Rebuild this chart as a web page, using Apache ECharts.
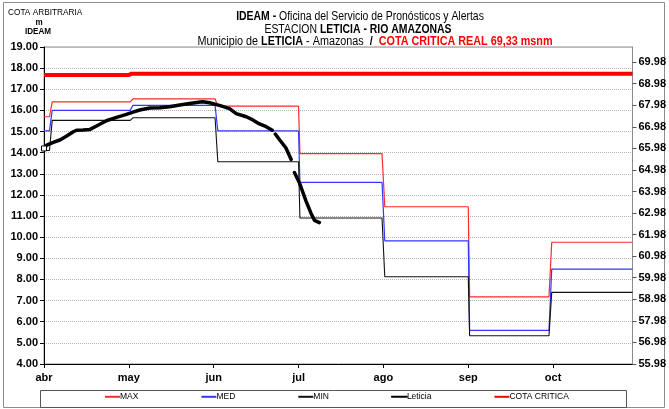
<!DOCTYPE html>
<html>
<head>
<meta charset="utf-8">
<script src="https://cdn.jsdelivr.net/npm/echarts@6/dist/echarts.min.js"></script>
<style>
  html, body { margin: 0; padding: 0; background: #fff; }
  #chart { width: 669px; height: 409px; }
</style>
</head>
<body>
<div id="chart"></div>
<script>
// Month labels on the day axis (day 0 = start of abr)
const months = ['abr', 'may', 'jun', 'jul', 'ago', 'sep', 'oct'];
const monthTickDays = [0, 31, 62, 93, 124, 155, 186];

// Secondary axis ticks (msnm)
const rightTicks = [55.98, 56.98, 57.98, 58.98, 59.98, 60.98, 61.98, 62.98, 63.98, 64.98, 65.98, 66.98, 67.98, 68.98, 69.98];

// Reference periods of the historical levels (start / end day of each plateau)
const periodStart = [0, 3, 32.5, 63.5, 93.5, 124.5, 155.5, 185.5];
const periodEnd   = [2, 31.5, 62.5, 93, 123.5, 155, 184.5, 215];

// Historical levels per period (m)
const maxLevels = [15.70, 16.40, 16.55, 16.20, 13.95, 11.44, 7.18, 9.76];
const medLevels = [15.03, 16.00, 16.24, 15.03, 12.59, 9.83, 5.59, 8.49];
const minLevels = [14.10, 15.53, 15.65, 13.57, 10.91, 8.13, 5.34, 7.39];

// Critical level (m)
const criticaDays   = [0, 31, 32, 215];
const criticaLevels = [17.67, 17.67, 17.74, 17.74];

// Observed levels at Leticia (day, m); null = missing reading
const leticiaDays = [0, 1, 3.4, 5.8, 8.3, 10.7, 11.9, 14.3, 16.8, 19.2, 22.8, 26.5, 30.1, 32.5, 35, 38.6, 42.3, 45.9, 49.6, 53.2, 57, 58, 60.5, 64.1, 67.8, 70.2, 73.9, 76.3, 78.7, 81.2, 83.4, 84, 84.5, 86, 88.4, 90.3, 91, 91.5, 93.3, 94.5, 95.7, 97.5, 98.8, 100.6];
const leticiaLevels = [14.20, 14.36, 14.49, 14.60, 14.79, 14.99, 15.06, 15.07, 15.10, 15.26, 15.51, 15.67, 15.81, 15.92, 16.02, 16.11, 16.13, 16.17, 16.26, 16.33, 16.40, 16.41, 16.36, 16.24, 16.08, 15.85, 15.70, 15.55, 15.36, 15.23, 15.06, null, 14.88, 14.62, 14.22, 13.68, null, 13.06, 12.58, 12.15, 11.72, 11.15, 10.80, 10.69];

const FONT = "'Liberation Sans', Arial, sans-serif";
const NARROW = 0.87; // condensed look for header texts

function stepSeries(levels) {
  const pts = [];
  levels.forEach((v, i) => {
    pts.push([periodStart[i], v]);
    pts.push([periodEnd[i], v]);
  });
  return pts;
}

const leticiaData = leticiaDays.map((d, i) => {
  const v = leticiaLevels[i];
  if (i === 0) {
    return { value: [d, v], symbol: 'rect', symbolSize: 5, itemStyle: { color: '#fff', borderColor: '#000', borderWidth: 1, opacity: 1 } };
  }
  return [d, v === null ? '-' : v];
});

const richHead = {
  b: { font: 'bold 12px ' + FONT, fill: '#000' },
  n: { font: '12px ' + FONT, fill: '#000' },
  r: { font: 'bold 12px ' + FONT, fill: '#ff0000' }
};

const chart = echarts.init(document.getElementById('chart'), null, { renderer: 'canvas' });

chart.setOption({
  animation: false,
  backgroundColor: '#fff',
  grid: {
    left: 44, right: 35, top: 47, bottom: 45,
    show: true, borderColor: '#8c8c8c', borderWidth: 1, backgroundColor: 'transparent'
  },
  graphic: [
    { type: 'rect', shape: { x: 3.5, y: 2.5, width: 661, height: 405 }, style: { fill: 'none', stroke: '#8c8c8c', lineWidth: 1 }, silent: true, z: -10 },
    { type: 'rect', shape: { x: 40.5, y: 390.5, width: 586, height: 17 }, style: { fill: 'none', stroke: '#555', lineWidth: 1 }, silent: true },
    { type: 'text', x: 8, y: 8, scaleX: 0.92, style: { text: 'COTA ARBITRARIA', font: '9px ' + FONT, fill: '#000' } },
    { type: 'text', x: 39, y: 18, scaleX: 0.9, style: { text: 'm', font: 'bold 9px ' + FONT, fill: '#000', textAlign: 'center' } },
    { type: 'text', x: 38, y: 27, scaleX: 0.9, style: { text: 'IDEAM', font: 'bold 9px ' + FONT, fill: '#000', textAlign: 'center' } },
    {
      type: 'text', x: 360, y: 11, scaleX: NARROW,
      style: { text: '{b|IDEAM -} {n|Oficina del Servicio de Pronósticos y Alertas}', textAlign: 'center', rich: richHead }
    },
    {
      type: 'text', x: 358, y: 24, scaleX: NARROW,
      style: { text: '{n|ESTACION }{b|LETICIA - RIO AMAZONAS}', textAlign: 'center', rich: richHead }
    },
    {
      type: 'text', x: 375, y: 36, scaleX: 0.9,
      style: { text: '{n|Municipio de }{b|LETICIA}{n| - Amazonas  }{b|/  }{r|COTA CRITICA REAL 69,33 msnm}', textAlign: 'center', rich: richHead }
    }
  ],
  legend: {
    left: 104, top: 392, padding: 0,
    itemWidth: 15, itemHeight: 12, itemGap: 62,
    itemStyle: { opacity: 0 },
    textStyle: { fontFamily: FONT, fontSize: 8.5, color: '#000', padding: [0, 0, 0, -5] },
    data: ['MAX', 'MED', 'MIN', 'Leticia', 'COTA CRITICA']
  },
  xAxis: {
    type: 'value', min: 0, max: 215,
    axisLine: { lineStyle: { color: '#000', width: 1 } },
    axisTick: { show: true, customValues: monthTickDays, length: 4, lineStyle: { color: '#000' } },
    axisLabel: {
      customValues: monthTickDays,
      formatter: v => months[monthTickDays.indexOf(v)] || '',
      fontFamily: FONT, fontWeight: 'bold', fontSize: 11, color: '#000', margin: 8
    },
    splitLine: { show: false }
  },
  yAxis: [
    {
      type: 'value', min: 4, max: 19, interval: 1, position: 'left',
      axisLine: { show: true, lineStyle: { color: '#000' } },
      axisTick: { show: true, length: 4, lineStyle: { color: '#000' } },
      axisLabel: { formatter: v => v.toFixed(2), fontFamily: FONT, fontWeight: 'bold', fontSize: 11, color: '#000', margin: 6 },
      splitLine: { show: true, lineStyle: { color: '#b4b4b4', type: 'dotted', width: 1 } }
    },
    {
      type: 'value', min: 55.98, max: 70.68, position: 'right',
      axisLine: { show: true, lineStyle: { color: '#8c8c8c' } },
      axisTick: { show: true, customValues: rightTicks, length: 4, lineStyle: { color: '#555' } },
      axisLabel: { customValues: rightTicks, formatter: v => v.toFixed(2), fontFamily: FONT, fontWeight: 'bold', fontSize: 11, color: '#000', margin: 6 },
      splitLine: { show: false }
    }
  ],
  series: [
    { name: 'MAX', type: 'line', data: stepSeries(maxLevels), symbol: 'none', lineStyle: { color: '#ff2a2a', width: 1.2 }, itemStyle: { color: '#ff2a2a' }, z: 3 },
    { name: 'MED', type: 'line', data: stepSeries(medLevels), symbol: 'none', lineStyle: { color: '#3535ff', width: 1.2 }, itemStyle: { color: '#3535ff' }, z: 3 },
    { name: 'MIN', type: 'line', data: stepSeries(minLevels), symbol: 'none', lineStyle: { color: '#111', width: 1.1 }, itemStyle: { color: '#111' }, z: 3 },
    {
      name: 'Leticia', type: 'line', data: leticiaData, symbol: 'none', connectNulls: false,
      lineStyle: { color: '#000', width: 3.5, cap: 'round', join: 'round' }, itemStyle: { color: '#000' }, z: 5
    },
    { name: 'COTA CRITICA', type: 'line', data: criticaDays.map((d, i) => [d, criticaLevels[i]]), symbol: 'none', lineStyle: { color: '#ff0000', width: 4 }, itemStyle: { color: '#ff0000' }, z: 4 }
  ]
});
</script>
</body>
</html>
